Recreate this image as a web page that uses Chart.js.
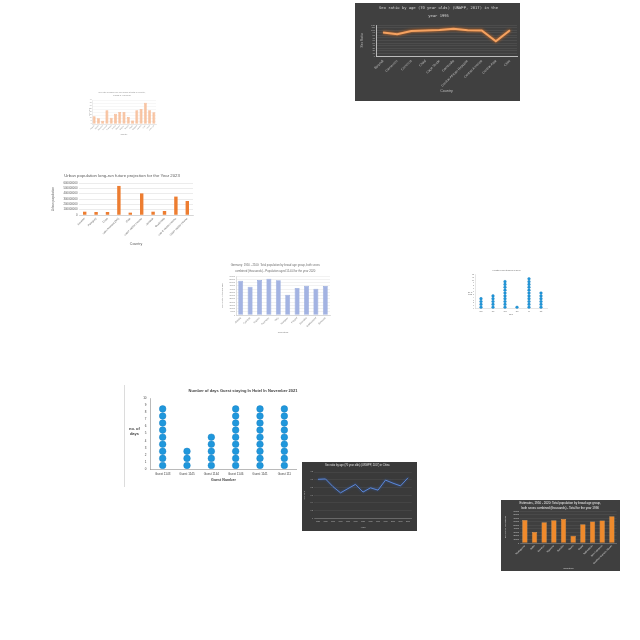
<!DOCTYPE html>
<html><head><meta charset="utf-8">
<script src="https://cdn.jsdelivr.net/npm/chart.js@4"></script>
<style>
html,body{margin:0;padding:0;background:#fff;width:640px;height:640px;overflow:hidden;position:relative}
.box{position:absolute}
.box canvas{display:block}
.lbl{position:absolute;font-family:'Liberation Sans',Arial,sans-serif;text-align:center;line-height:1.15;white-space:pre}
.vline{position:absolute;background:#dcdcdc}
</style></head><body>
<script>
// ===== DATA =====
// A: dark line chart (top right)
const sexRatioCountries = ["Burundi","Cameroon","Comoros","Chad","Cape Verde","Cambodia","Central African Republic","Central America","Central Asia","Chile"];
const sexRatio1995 = [91, 84, 97, 99, 101, 105, 100, 99, 57, 100];
// B: small light-orange bar chart
const smallBarCountries = ["Albania","Algeria","Argentina","Armenia","Australia","Austria","Belarus","Belgium","Bolivia","Brazil","Bulgaria","Canada","Chile","China","Colombia"];
const smallBarValues = [13, 9.5, 5.5, 23, 10.5, 17, 20, 20, 11.5, 6, 23, 25, 35.5, 23, 19.5];
// C: urban population
const urbanCountries = ["Ecuador","Paraguay","Cuba","Latin America (WB)","Chile","Lower middle income","Jamaica","Guatemala","Low & middle income","Upper middle income"];
const urbanPopulation = [62000000, 56000000, 56000000, 545000000, 44000000, 405000000, 62000000, 75000000, 345000000, 262000000];
const urbanTicks = [0, 100000000, 200000000, 300000000, 400000000, 500000000, 600000000];
// D: population aged 15-64 (blue bars)
const ageCountries = ["Austria","Czechia","France","Germany","Italy","Hungary","Poland","Slovakia","Switzerland","Slovenia"];
const age1564 = [52800, 43600, 53800, 55900, 53300, 31300, 41500, 45100, 40500, 44600];
// E: small dot plot
const weekDays = ["Mon","Tue","Wed","Thu","Fri","Sat"];
const healthyItems = [4, 5, 10, 1, 11, 6];
// F: guest dot plot
const guestNumbers = ["Guest 1143","Guest 1145","Guest 1144","Guest 1146","Guest 1141","Guest 111"];
const guestDays = [9, 3, 5, 9, 9, 9];
// G: dark blue line
const chinaYears = ["1950","1955","1960","1965","1970","1975","1980","1985","1990","1995","2000","2005","2010"];
const chinaSexRatio = [1.01, 1.02, 0.82, 0.66, 0.77, 0.88, 0.68, 0.79, 0.73, 0.99, 0.91, 0.84, 1.05];
// H: dark orange bars
const totalCountries = ["Madagascar","Malta","Morocco","Myanmar","Namibia","Nauru","Nepal","Netherlands","New Caledonia","Northern Mariana Islands"];
const total1990 = [64900, 30600, 58500, 64000, 67700, 20400, 52900, 60300, 63100, 75200];

// ===== HELPERS =====
Chart.defaults.font.family = "'Liberation Sans', Arial, sans-serif";
Chart.defaults.animation = false;

function panel(x, y, w, h, bg) {
  const d = document.createElement('div');
  d.className = 'box';
  d.style.cssText = `left:${x}px;top:${y}px;width:${w}px;height:${h}px;background:${bg || 'transparent'}`;
  const c = document.createElement('canvas');
  c.width = w; c.height = h; c.style.width = w + 'px'; c.style.height = h + 'px';
  d.appendChild(c); document.body.appendChild(d);
  return c;
}
function label(text, x, y, size, color, bold) {
  const d = document.createElement('div');
  d.className = 'lbl';
  d.textContent = text;
  d.style.cssText += `left:${x}px;top:${y}px;font-size:${size}px;color:${color};font-weight:${bold ? 'bold' : 'normal'}`;
  document.body.appendChild(d);
}
function geom(W, H, g) {
  return {
    layout: {padding: {left: g.padL, right: W - g.r, top: 0, bottom: g.padB}},
    yFit: s => { s.width = g.l - g.padL; s.paddingTop = 0; s.paddingBottom = 0; },
    xFit: s => { s.height = H - g.padB - g.b; s.paddingLeft = 0; s.paddingRight = 0; },
    titlePad: {top: g.tTop, bottom: Math.max(0, g.t - g.tTop - g.tLines * g.tSize * g.tLH)}
  };
}
function stackDots(cats, counts) {
  const pts = [];
  cats.forEach((c, i) => { for (let k = 0; k < counts[i]; k++) pts.push({x: c, y: k + 0.5}); });
  return pts;
}
const plain = v => String(v);
const noGrid = {display: false, drawTicks: false};
const glow = {
  id: 'glow',
  beforeDatasetDraw(chart, args, opts) { const c = chart.ctx; c.save(); c.shadowColor = opts.color; c.shadowBlur = opts.blur; },
  afterDatasetDraw(chart) { chart.ctx.restore(); }
};

// ===== A: dark sex ratio line =====
(function () {
  const W = 165, H = 98;
  const g = geom(W, H, {l: 21, t: 22, r: 162, b: 53, padL: 5, padB: 7.5, tTop: 1, tLines: 2, tSize: 3.8, tLH: 2.1});
  new Chart(panel(355, 3, W, H, '#404040'), {
    type: 'line',
    data: {labels: sexRatioCountries, datasets: [{data: sexRatio1995, borderColor: '#f4a261', borderWidth: 2, pointRadius: 0, tension: 0}]},
    plugins: [glow],
    options: {
      responsive: false, devicePixelRatio: 1, layout: g.layout,
      plugins: {
        legend: {display: false}, tooltip: {enabled: false},
        glow: {color: '#e8701a', blur: 3},
        title: {display: true, text: ["Sex ratio by age (70 year olds) (UNWPP, 2017) in the", "year 1995"], color: '#d9d9d9', font: {size: 3.8, family: "'DejaVu Sans Mono', monospace", weight: 'normal', lineHeight: 2.1}, padding: g.titlePad}
      },
      scales: {
        x: {offset: true, afterFit: g.xFit, grid: noGrid, border: {color: '#d9d9d9', width: 0.8},
            ticks: {autoSkip: false, minRotation: 45, maxRotation: 45, font: {size: 3.4}, color: '#bfbfbf', padding: 3},
            title: {display: true, text: 'Country', color: '#bfbfbf', font: {size: 3.6}, padding: 0}},
        y: {min: 0, max: 120, afterFit: g.yFit, grid: {color: 'rgba(255,255,255,0.13)', lineWidth: 0.5, drawTicks: false}, border: {color: '#d9d9d9', width: 0.8},
            ticks: {stepSize: 10, autoSkip: false, font: {size: 2.2}, color: '#bfbfbf', padding: 1, callback: plain},
            title: {display: true, text: 'Sex Ratio', color: '#bfbfbf', font: {size: 3.2}, padding: 0}}
      }
    }
  });
})();

// ===== B: small light-orange bars =====
(function () {
  const W = 71, H = 48;
  const g = geom(W, H, {l: 5, t: 10, r: 69, b: 34, padL: 0.8, padB: 2.8, tTop: 1, tLines: 2, tSize: 2, tLH: 1.5});
  new Chart(panel(87, 90, W, H), {
    type: 'bar',
    data: {labels: smallBarCountries, datasets: [{data: smallBarValues, backgroundColor: '#f8c4a2', borderColor: '#f2a274', borderWidth: 0.5, barPercentage: 0.72, categoryPercentage: 0.95}]},
    options: {
      responsive: false, devicePixelRatio: 1, layout: g.layout,
      plugins: {
        legend: {display: false}, tooltip: {enabled: false},
        title: {display: true, text: ["Sex ratio (females per 100 males) at birth by country,", "ending in year 2018"], color: '#8c8c8c', font: {size: 2, weight: 'normal', lineHeight: 1.5}, padding: g.titlePad}
      },
      scales: {
        x: {afterFit: g.xFit, grid: noGrid, border: {color: '#d0d0d0', width: 0.4},
            ticks: {autoSkip: false, minRotation: 45, maxRotation: 45, font: {size: 1.6}, color: '#8c8c8c', padding: 1},
            title: {display: true, text: 'Country', color: '#8c8c8c', font: {size: 2}, padding: 0}},
        y: {min: 0, max: 40, afterFit: g.yFit, grid: {color: '#ececec', lineWidth: 0.4, drawTicks: false}, border: {color: '#d0d0d0', width: 0.4},
            ticks: {stepSize: 5, autoSkip: false, font: {size: 1.5}, color: '#8c8c8c', padding: 0.5, callback: plain},
            title: {display: true, text: 'Sex ratio', color: '#8c8c8c', font: {size: 2}, padding: 0}}
      }
    }
  });
})();

// ===== C: urban population =====
(function () {
  const W = 148, H = 84;
  const g = geom(W, H, {l: 29, t: 17, r: 143, b: 49, padL: 1.1, padB: 3.9, tTop: 7.4, tLines: 1, tSize: 4.3, tLH: 1.2});
  new Chart(panel(50, 166, W, H), {
    type: 'bar',
    data: {labels: urbanCountries, datasets: [{data: urbanPopulation, backgroundColor: '#ed7d31', barPercentage: 0.3, categoryPercentage: 1}]},
    options: {
      responsive: false, devicePixelRatio: 1, layout: g.layout,
      plugins: {
        legend: {display: false}, tooltip: {enabled: false},
        title: {display: true, text: 'Urban population long-run future projection for the Year 2023', color: '#595959', font: {size: 4.3, weight: 'normal', lineHeight: 1.2}, padding: g.titlePad}
      },
      scales: {
        x: {afterFit: g.xFit, grid: noGrid, border: {color: '#bfbfbf', width: 0.5},
            ticks: {autoSkip: false, minRotation: 45, maxRotation: 45, font: {size: 2.6}, color: '#595959', padding: 2},
            title: {display: true, text: 'Country', color: '#595959', font: {size: 3.5}, padding: 0}},
        y: {min: 0, max: 600000000, afterFit: g.yFit, afterBuildTicks: s => { s.ticks = urbanTicks.map(v => ({value: v})); },
            grid: {color: '#d9d9d9', lineWidth: 0.5, drawTicks: false}, border: {display: false},
            ticks: {autoSkip: false, font: {size: 2.8}, color: '#595959', padding: 1.5, callback: plain},
            title: {display: true, text: 'Urban population', color: '#595959', font: {size: 3.2}, padding: 0}}
      }
    }
  });
})();

// ===== D: population aged 15-64 (blue) =====
(function () {
  const W = 122, H = 85;
  const g = geom(W, H, {l: 19, t: 15, r: 113, b: 54, padL: 3.5, padB: 12.5, tTop: 1.7, tLines: 2, tSize: 2.8, tLH: 2.14});
  new Chart(panel(217, 261, W, H), {
    type: 'bar',
    data: {labels: ageCountries, datasets: [{data: age1564, backgroundColor: '#a3b3e2', borderColor: '#7590d2', borderWidth: 0.5, barPercentage: 0.52, categoryPercentage: 1}]},
    options: {
      responsive: false, devicePixelRatio: 1, layout: g.layout,
      plugins: {
        legend: {display: false}, tooltip: {enabled: false},
        title: {display: true, text: ["Germany: 1950 - 2100: Total population by broad age group, both sexes", "combined (thousands) - Population aged 15-64 for the year 2020"], color: '#6e6e6e', font: {size: 2.8, weight: 'normal', lineHeight: 2.14}, padding: g.titlePad}
      },
      scales: {
        x: {afterFit: g.xFit, grid: noGrid, border: {color: '#bfbfbf', width: 0.5},
            ticks: {autoSkip: false, minRotation: 45, maxRotation: 45, font: {size: 2.5}, color: '#7f7f7f', padding: 1.5},
            title: {display: true, text: 'Countries', color: '#7f7f7f', font: {size: 2.5}, padding: 0}},
        y: {min: 0, max: 60000, afterFit: g.yFit, grid: {color: '#dedede', lineWidth: 0.4, drawTicks: false}, border: {color: '#bfbfbf', width: 0.5},
            ticks: {stepSize: 5000, autoSkip: false, font: {size: 2}, color: '#7f7f7f', padding: 1, callback: plain},
            title: {display: true, text: 'Population (thousands)', color: '#7f7f7f', font: {size: 2.4}, padding: 0}}
      }
    }
  });
})();

// ===== E: small dot plot =====
(function () {
  const W = 86, H = 60;
  const g = geom(W, H, {l: 9, t: 8.5, r: 81, b: 42.7, padL: 0, padB: 10, tTop: 3.2, tLines: 1, tSize: 2.2, tLH: 1.2});
  new Chart(panel(466, 266, W, H), {
    type: 'line',
    data: {labels: weekDays, datasets: [{data: stackDots(weekDays, healthyItems), showLine: false, pointRadius: 1.4, pointBackgroundColor: '#1f97dc', pointBorderColor: '#1677b5', pointBorderWidth: 0.3}]},
    options: {
      responsive: false, devicePixelRatio: 1, layout: g.layout,
      plugins: {
        legend: {display: false}, tooltip: {enabled: false},
        title: {display: true, text: 'Healthy food items in a week', color: '#595959', font: {size: 2.2, weight: 'normal', lineHeight: 1.2}, padding: g.titlePad}
      },
      scales: {
        x: {offset: true, afterFit: g.xFit, grid: noGrid, border: {color: '#bfbfbf', width: 0.4},
            ticks: {autoSkip: false, maxRotation: 0, font: {size: 1.6}, color: '#595959', padding: 1.5},
            title: {display: true, text: 'Days', color: '#595959', font: {size: 1.6}, padding: 0}},
        y: {min: 0, max: 12, afterFit: g.yFit, grid: noGrid, border: {color: '#bfbfbf', width: 0.4},
            ticks: {stepSize: 1, autoSkip: false, font: {size: 1.5}, color: '#595959', padding: 1}}
      }
    }
  });
  label('No. of\nitems', 468, 292, 1.6, '#595959', false);
})();

// ===== F: guest dot plot =====
(function () {
  const W = 176, H = 101;
  const g = geom(W, H, {l: 25.5, t: 13.3, r: 172.5, b: 84, padL: 0, padB: 3.7, tTop: 3.3, tLines: 1, tSize: 4, tLH: 1.2});
  const ln = document.createElement('div'); ln.className = 'vline';
  ln.style.cssText += 'left:124px;top:385px;width:1px;height:102px'; document.body.appendChild(ln);
  new Chart(panel(125, 385, W, H), {
    type: 'line',
    data: {labels: guestNumbers, datasets: [{data: stackDots(guestNumbers, guestDays), showLine: false, pointRadius: 3.3, pointBackgroundColor: '#1f97dc', pointBorderColor: '#1a82c4', pointBorderWidth: 0.5}]},
    options: {
      responsive: false, devicePixelRatio: 1, layout: g.layout,
      plugins: {
        legend: {display: false}, tooltip: {enabled: false},
        title: {display: true, align: 'end', text: 'Number of days Guest staying In Hotel In November 2021', color: '#404040', font: {size: 4, weight: 'bold', lineHeight: 1.2}, padding: g.titlePad}
      },
      scales: {
        x: {offset: true, afterFit: g.xFit, grid: noGrid, border: {color: '#8c8c8c', width: 0.6},
            ticks: {autoSkip: false, maxRotation: 0, font: {size: 3}, color: '#404040', padding: 3},
            title: {display: true, text: 'Guest Number', color: '#404040', font: {size: 3.6, weight: 'bold'}, padding: 0}},
        y: {min: 0, max: 10, afterFit: g.yFit, grid: noGrid, border: {color: '#8c8c8c', width: 0.6},
            ticks: {stepSize: 1, autoSkip: false, font: {size: 3}, color: '#404040', padding: 4}}
      }
    }
  });
  label('no. of\ndays', 129, 427, 4, '#404040', true);
})();

// ===== G: dark blue line =====
(function () {
  const W = 115, H = 69;
  const g = geom(W, H, {l: 12.25, t: 10, r: 109.75, b: 56.3, padL: 0.8, padB: 2.8, tTop: 2.1, tLines: 1, tSize: 2.6, tLH: 1.2});
  new Chart(panel(302, 462, W, H, '#3a3a3a'), {
    type: 'line',
    data: {labels: chinaYears, datasets: [{data: chinaSexRatio, borderColor: '#5b86d6', borderWidth: 1, pointRadius: 0, tension: 0}]},
    plugins: [glow],
    options: {
      responsive: false, devicePixelRatio: 1, layout: g.layout,
      plugins: {
        legend: {display: false}, tooltip: {enabled: false},
        glow: {color: '#2f5fb8', blur: 2.5},
        title: {display: true, text: 'Sex ratio by age (70 year olds) (UNWPP, 2017) in China', color: '#e0e0e0', font: {size: 2.6, weight: 'normal', lineHeight: 1.2}, padding: g.titlePad}
      },
      scales: {
        x: {offset: true, afterFit: g.xFit, grid: noGrid, border: {color: '#8c8c8c', width: 0.5},
            ticks: {autoSkip: false, maxRotation: 0, font: {size: 1.8}, color: '#bfbfbf', padding: 2},
            title: {display: true, text: 'Years', color: '#bfbfbf', font: {size: 2}, padding: 0}},
        y: {min: 0, max: 1.2, afterFit: g.yFit, grid: {color: 'rgba(255,255,255,0.14)', lineWidth: 0.4, drawTicks: false}, border: {display: false},
            ticks: {stepSize: 0.2, autoSkip: false, font: {size: 1.8}, color: '#bfbfbf', padding: 1.2},
            title: {display: true, text: 'Sex Ratio', color: '#bfbfbf', font: {size: 2}, padding: 0}}
      }
    }
  });
})();

// ===== H: dark orange bars =====
(function () {
  const W = 119, H = 71;
  const g = geom(W, H, {l: 19, t: 11, r: 115.7, b: 43, padL: 2.7, padB: 1.5, tTop: 0.5, tLines: 2, tSize: 3, tLH: 1.67});
  new Chart(panel(501, 500, W, H, '#3f3f3f'), {
    type: 'bar',
    data: {labels: totalCountries, datasets: [{data: total1990, backgroundColor: '#ef8a2c', borderColor: '#f8b46c', borderWidth: 0.5, barPercentage: 0.55, categoryPercentage: 1}]},
    options: {
      responsive: false, devicePixelRatio: 1, layout: g.layout,
      plugins: {
        legend: {display: false}, tooltip: {enabled: false},
        title: {display: true, text: ["Estimates, 1950 - 2020: Total population by broad age group,", "both sexes combined (thousands) - Total for the year 1990"], color: '#f2f2f2', font: {size: 3, weight: 'normal', lineHeight: 1.67}, padding: g.titlePad}
      },
      scales: {
        x: {afterFit: g.xFit, grid: noGrid, border: {color: '#8c8c8c', width: 0.5},
            ticks: {autoSkip: false, minRotation: 45, maxRotation: 45, font: {size: 2.3}, color: '#d9d9d9', padding: 1.5},
            title: {display: true, text: 'Countries', color: '#d9d9d9', font: {size: 2.4}, padding: 0}},
        y: {min: 0, max: 90000, afterFit: g.yFit, grid: {color: 'rgba(255,255,255,0.14)', lineWidth: 0.4, drawTicks: false}, border: {display: false},
            ticks: {stepSize: 10000, autoSkip: false, font: {size: 2}, color: '#d9d9d9', padding: 1, callback: plain},
            title: {display: true, text: 'Population (thousands)', color: '#d9d9d9', font: {size: 2.2}, padding: 0}}
      }
    }
  });
})();
</script>
</body></html>
